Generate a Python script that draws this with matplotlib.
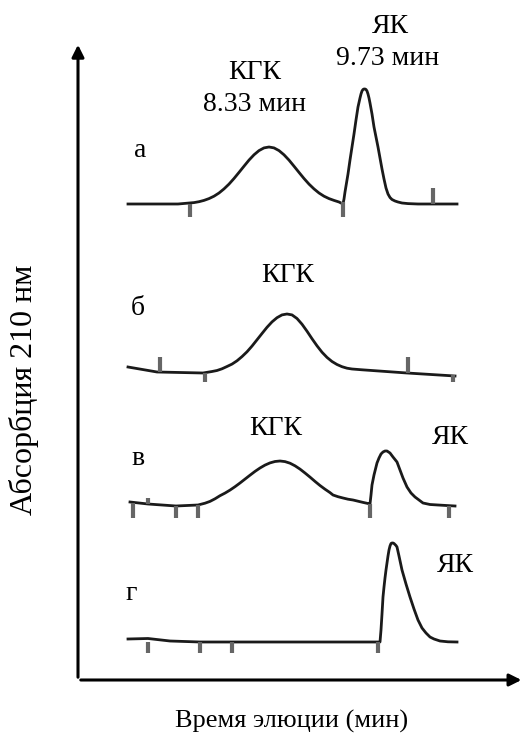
import numpy as np
import matplotlib.pyplot as plt

plt.rcParams['font.family'] = ['Liberation Serif', 'DejaVu Serif']

# traces: time (arb. units) and absorbance above each trace's baseline
t_a = [50, 100, 116, 121, 126, 131, 136, 141, 146, 151, 156, 161, 166, 171, 176, 181, 186, 191,
       196, 201, 206, 211, 216, 221, 226, 231, 236, 241, 246, 251, 256, 261, 265,
       266, 267, 268, 270, 272, 274, 276, 278, 280, 282, 283, 284, 285, 286, 287, 288, 289, 290,
       291, 292, 294, 296, 298, 300, 302, 304, 306, 308, 310, 312, 314, 317, 320, 324, 330, 340, 379]
a_a = [0, 0, 1.4, 2.3, 3.6, 5.4, 7.8, 11.0, 15.1, 19.9, 25.5, 31.6, 37.8, 43.9, 49.2, 53.4, 56.1, 57,
       56.1, 53.4, 49.2, 43.9, 37.8, 31.6, 25.5, 19.9, 15.1, 11.0, 7.8, 5.4, 3.6, 2.0, 0,
       5, 12, 18, 30, 44, 57, 70, 84, 97, 106, 110, 113, 114.5, 115, 115, 114.5, 113, 110,
       106, 101, 90, 77, 67, 57, 46, 35, 25, 16, 10, 6.5, 4.5, 3, 2, 1, 0.4, 0, 0]

t_b = [50, 79, 125, 134, 139, 144, 149, 154, 159, 164, 169, 174, 179, 184, 189, 194, 199, 204, 209,
       214, 219, 224, 229, 234, 239, 244, 249, 254, 259, 264, 269, 274, 284, 329, 377]
a_b = [5, 0, -1, 0.5, 1.5, 3.2, 5.5, 7.9, 11.2, 15.4, 20.2, 25.9, 32.2, 38.5, 44.7, 50.1, 54.3, 57.1, 58,
       57.1, 53.5, 47.8, 40.8, 33.3, 26.2, 19.8, 14.6, 10.5, 7.5, 5.3, 3.8, 3.0, 2.2, -1, -4]

t_c = [52, 70, 98, 120, 127, 132, 137, 142, 147, 152, 157, 162, 167, 172, 177, 182, 187, 192, 197, 202,
       207, 212, 217, 222, 227, 232, 237, 242, 247, 252, 255, 260, 265, 270, 275, 280, 285, 290,
       292, 293, 294, 296, 298, 299, 301, 303, 305, 307, 309, 312, 315, 319, 322, 325, 329, 333, 337,
       341, 345, 352, 360, 377]
a_c = [3, 1, -1, 0, 1.8, 3.6, 6.2, 9.3, 11.9, 14.9, 18.3, 22, 25.9, 29.8, 33.6, 37.0, 39.9, 42.1, 43.5, 44,
       43.4, 41.8, 39.2, 35.9, 32.0, 27.9, 23.6, 19.5, 15.8, 12.4, 10, 8.3, 7, 5.8, 5, 3.8, 2.6, 1.5,
       1, 10, 20, 30, 38, 42, 47, 51, 53, 54, 54, 52, 48, 43, 35, 27, 18, 12, 8,
       5, 2, 0.5, 0, -1]

t_d = [50, 70, 92, 122, 302, 303, 304, 305, 306, 307, 308, 309, 310, 311, 312, 313, 314, 315, 316, 317,
       318, 319, 321, 324, 328, 332, 336, 340, 344, 348, 352, 356, 362, 370, 379]
a_d = [3, 3.5, 1, 0, 0, 12, 28, 45, 55, 64, 72, 79, 86, 92, 96, 98.5, 99, 99, 98.5, 97.5,
       96.5, 95, 86, 72, 58, 45, 33, 22, 14, 9, 5, 3, 1, 0.2, 0]

# marker ticks on each trace: time, start, end
ticks_a = [(112, 0, -13), (265, 2, -13), (355, 0, 16)]
ticks_b = [(82, 0, 15), (127, -1, -10), (330, -1, 15), (375, -3, -10)]
ticks_c = [(55, 2, -13), (70, 1, 7), (98, -1, -13), (120, 0, -13), (292, 1, -13), (371, -1, -13)]
ticks_d = [(70, 0, -11), (122, 0, -11), (154, 0, -11), (300, 0, -11)]

traces = [(t_a, a_a, ticks_a, 476), (t_b, a_b, ticks_b, 308),
          (t_c, a_c, ticks_c, 175), (t_d, a_d, ticks_d, 38)]

fig = plt.figure(figsize=(5.25, 7.4), dpi=100)
ax = fig.add_axes([78 / 525, 60 / 740, 444 / 525, 638 / 740])
ax.set_xlim(0, 444)
ax.set_ylim(0, 638)
ax.axis('off')

for t, a, tk, off in traces:
    ax.plot(t, np.array(a) + off, color='#1a1a1a', lw=2.0, solid_joinstyle='round')
    for x, y0, y1 in tk:
        ax.plot([x, x], [y0 + off, y1 + off], color='#666666', lw=3, solid_capstyle='butt')

# axes as arrows
arrow = dict(arrowstyle='-|>', color='black', lw=2.2, mutation_scale=18)
ax.annotate('', xy=(1.005, 0), xytext=(0, 0), xycoords='axes fraction', arrowprops=arrow,
            annotation_clip=False)
ax.annotate('', xy=(0, 1.0), xytext=(0, 0), xycoords='axes fraction', arrowprops=arrow,
            annotation_clip=False)

fs = 20
kw = dict(ha='center', va='center', fontsize=fs, clip_on=False)
ax.text(177, 608, 'КГК', **kw)
ax.text(177, 576, '8.33 мин', **kw)
ax.text(312, 654, 'ЯК', **kw)
ax.text(310, 622, '9.73 мин', **kw)
ax.text(62, 530, 'а', **kw)
ax.text(60, 372, 'б', **kw)
ax.text(210, 405, 'КГК', **kw)
ax.text(60, 222, 'в', **kw)
ax.text(198, 252, 'КГК', **kw)
ax.text(372, 243, 'ЯК', **kw)
ax.text(53, 86, 'г', **kw)
ax.text(377, 115, 'ЯК', **kw)

fig.text(292 / 525, 1 - 721 / 740, 'Время элюции (мин)', ha='center', va='center', fontsize=19)
fig.text(24 / 525, 1 - 390 / 740, 'Абсорбция 210 нм', ha='center', va='center',
         fontsize=23, rotation=90)

fig.savefig('out.png', dpi=100)
